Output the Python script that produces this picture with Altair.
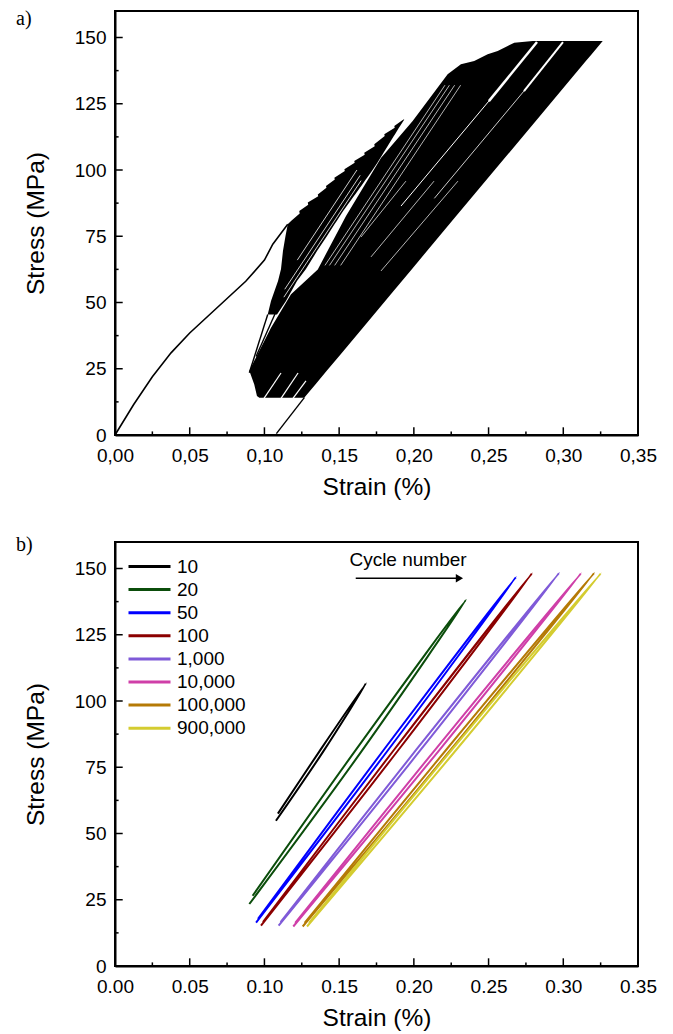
import altair as alt
import pandas as pd

FONT = "Liberation Sans"

# ---------------- panel a) data ----------------
mono_strain = [0.0, 0.0125, 0.025, 0.0375, 0.05, 0.0625, 0.075, 0.0875, 0.1, 0.1056, 0.1156]
mono_stress = [0.0, 11.5, 22.0, 31.0, 38.5, 45.0, 51.5, 58.0, 66.0, 72.0, 79.5]

fan_stress = [45.5, 50.6, 58.1, 62.6, 69.4, 75.1, 79.5, 80.8, 83.6, 84.5, 86.9, 87.7, 90.1, 90.8,
              93.3, 94.0, 96.4, 97.1, 99.6, 100.3, 102.7, 103.4, 105.8, 106.5, 109.0, 109.7,
              112.8, 113.5, 115.9, 116.6, 119.1]
fan_left = [0.1022, 0.1044, 0.1091, 0.1111, 0.1124, 0.1141, 0.1156, 0.1178, 0.1236, 0.1233, 0.1293,
            0.1290, 0.1360, 0.1357, 0.1415, 0.1412, 0.1471, 0.1468, 0.1538, 0.1535, 0.1604, 0.1601,
            0.1671, 0.1668, 0.1738, 0.1735, 0.1805, 0.1802, 0.1872, 0.1869, 0.1930]
fan_right = [0.1084, 0.1144, 0.1218, 0.1278, 0.1352, 0.1419, 0.1469, 0.1484, 0.1516, 0.1527, 0.1557,
             0.1568, 0.1598, 0.1607, 0.1639, 0.1648, 0.1678, 0.1687, 0.1719, 0.1727, 0.1756, 0.1763,
             0.1789, 0.1797, 0.1824, 0.1832, 0.1866, 0.1874, 0.1900, 0.1908, 0.1936]

band_stress = [14.1, 14.7, 19.1, 24.2, 30.6, 40.5, 53.1, 62.5, 82.6, 104.5, 118.5, 136.1, 139.9,
               141.1, 143.7, 144.9, 146.8, 148.0, 148.7]
band_left = [0.0966, 0.0950, 0.0932, 0.0899, 0.0955, 0.1044, 0.1178, 0.1357, 0.1546, 0.1780, 0.1992,
             0.2226, 0.2315, 0.2404, 0.2494, 0.2561, 0.2628, 0.2672, 0.2795]
band_right = [0.1267, 0.1276, 0.1341, 0.1417, 0.1512, 0.1659, 0.1846, 0.1985, 0.2283, 0.2608, 0.2816,
              0.3077, 0.3133, 0.3151, 0.3190, 0.3208, 0.3236, 0.3254, 0.3264]

# black single lines (links between blocks, final unloading)
link_id = [0, 0, 1, 1, 2, 2]
link_strain = [0.1022, 0.0899, 0.0944, 0.1089, 0.1080, 0.1267]
link_stress = [45.5, 23.5, 29.6, 48.0, 0.5, 14.1]

# white gaps between loop blocks (pairs of points)
gap_id = [0, 0, 1, 1, 2, 2, 3, 3, 4, 4, 5, 5, 6, 6, 7, 7, 8, 8, 9, 9, 10, 10, 11, 11, 12, 12,
          13, 13, 14, 14, 15, 15, 16, 16]
gap_strain = [0.2824, 0.2502, 0.2502, 0.1914, 0.2998, 0.2737, 0.2737, 0.2137, 0.2295, 0.1780,
              0.2135, 0.1713, 0.1947, 0.1646,
              0.1130, 0.1647, 0.1136, 0.1641, 0.1220, 0.1619,
              0.1405, 0.2208, 0.1435, 0.2238, 0.1470, 0.2273, 0.1510, 0.2313,
              0.0997, 0.1111, 0.1111, 0.1225, 0.1191, 0.1278]
gap_stress = [148.3, 126.0, 126.0, 86.4, 148.3, 129.8, 129.8, 89.3, 95.8, 61.9, 95.8, 67.2, 95.8, 74.7,
              52.0, 96.0, 55.0, 98.0, 66.0, 100.0,
              64.0, 132.0, 64.0, 132.0, 64.0, 132.0, 64.0, 132.0,
              13.8, 23.4, 13.8, 23.4, 13.8, 20.4]
gap_width = [2.5, 2.5, 1.0, 1.0, 2.0, 2.0, 0.8, 0.8, 0.7, 0.7, 0.7, 0.7, 0.7, 0.7,
             0.8, 0.8, 0.8, 0.8, 0.8, 0.8,
             0.7, 0.7, 0.7, 0.7, 0.7, 0.7, 0.7, 0.7,
             1.2, 1.2, 1.2, 1.2, 1.2, 1.2]

# ---------------- panel b) data ----------------
cycles = ["10", "20", "50", "100", "1,000", "10,000", "100,000", "900,000"]
colors = ["#000000", "#0b4d0b", "#0000ff", "#8b0000", "#7f5ad8", "#cf3fa8", "#b57a06", "#d4cc30"]
# each loop: bottom start -> middle (loading) -> peak -> middle (unloading) -> bottom end
loop_strain = [
    [0.1077, 0.1394, 0.1680, 0.1368, 0.1090],
    [0.0899, 0.1647, 0.2349, 0.1602, 0.0921],
    [0.0944, 0.1829, 0.2684, 0.1799, 0.0957],
    [0.0977, 0.1899, 0.2791, 0.1869, 0.0990],
    [0.1095, 0.2049, 0.2973, 0.2019, 0.1108],
    [0.1193, 0.2172, 0.3119, 0.2142, 0.1206],
    [0.1256, 0.2248, 0.3208, 0.2218, 0.1269],
    [0.1285, 0.2284, 0.3252, 0.2254, 0.1298],
]
loop_stress = [
    [54.8, 81.0, 106.7, 81.0, 57.5],
    [23.4, 80.8, 138.2, 80.8, 26.5],
    [16.4, 81.6, 146.8, 81.6, 17.8],
    [15.2, 81.7, 148.2, 81.7, 16.6],
    [15.2, 81.8, 148.4, 81.8, 16.6],
    [14.9, 81.6, 148.2, 81.6, 16.3],
    [14.9, 81.7, 148.4, 81.7, 16.3],
    [14.9, 81.6, 148.2, 81.6, 16.3],
]
arrow_strain = [0.1611, 0.2300]
arrow_stress = [146.3, 146.3]
arrow_head = [0.2305]
note_text = ["Cycle number"]
note_strain = [0.1961]
note_stress = [153.2]

# axis ticks (drawn inward)
x_major = [0.0, 0.05, 0.10, 0.15, 0.20, 0.25, 0.30, 0.35]
x_minor = [0.025, 0.075, 0.125, 0.175, 0.225, 0.275, 0.325]
y_major = [0, 25, 50, 75, 100, 125, 150]
y_minor = [12.5, 37.5, 62.5, 87.5, 112.5, 137.5]

# ---------------- helpers ----------------
W, H = 523, 424
xscale = alt.Scale(domain=[0, 0.35], nice=False, zero=False)
yscale = alt.Scale(domain=[0, 160], nice=False, zero=False)


def x_axis(comma):
    fmt = "replace(format(datum.value, '.2f'), '.', ',')" if comma else "format(datum.value, '.2f')"
    return alt.Axis(values=x_major, title="Strain (%)", labelExpr=fmt, ticks=False,
                    labelPadding=11, titlePadding=10, labelFlush=False, labelOverlap=False)


y_axis = alt.Axis(values=y_major, title="Stress (MPa)", labelExpr="format(datum.value, 'd')",
                  ticks=False, labelPadding=9, titlePadding=26, labelFlush=False, labelOverlap=False)

X = lambda f: alt.X(f, scale=xscale)
Y = lambda f: alt.Y(f, scale=yscale)


def tick_layers():
    out = []
    for vals, ln in ((x_major, 7.7), (x_minor, 3.6)):
        out.append(alt.Chart(pd.DataFrame({"v": vals})).mark_rule(color="black", strokeWidth=1.5).encode(
            x=X("v:Q"), y=alt.value(H), y2=alt.value(H - ln)))
    for vals, ln in ((y_major, 7.7), (y_minor, 3.6)):
        out.append(alt.Chart(pd.DataFrame({"v": vals})).mark_rule(color="black", strokeWidth=1.5).encode(
            y=Y("v:Q"), x=alt.value(0), x2=alt.value(ln)))
    return out


def label_layer(txt, dy):
    return alt.Chart(pd.DataFrame({"t": [txt]})).mark_text(
        font="Liberation Serif", fontSize=20, align="left", baseline="top", color="black"
    ).encode(text="t:N", x=alt.value(-99), y=alt.value(dy))


# ---------------- panel a ----------------
fan_df = pd.DataFrame({"stress": fan_stress, "left": fan_left, "right": fan_right})
band_df = pd.DataFrame({"stress": band_stress, "left": band_left, "right": band_right})
mono_df = pd.DataFrame({"strain": mono_strain, "stress": mono_stress, "o": range(len(mono_strain))})
link_df = pd.DataFrame({"id": link_id, "strain": link_strain, "stress": link_stress})
gap_df = pd.DataFrame({"id": gap_id, "strain": gap_strain, "stress": gap_stress,
                       "w": gap_width, "o": range(len(gap_strain))})

base_a = alt.Chart(mono_df).mark_line(color="black", strokeWidth=1.6).encode(
    x=alt.X("strain:Q", scale=xscale, axis=x_axis(True)),
    y=alt.Y("stress:Q", scale=yscale, axis=y_axis),
    order="o:Q",
)
fan = alt.Chart(fan_df).mark_area(orient="horizontal", color="black").encode(
    y=Y("stress:Q"), x=X("left:Q"), x2="right:Q")
band = alt.Chart(band_df).mark_area(orient="horizontal", color="black").encode(
    y=Y("stress:Q"), x=X("left:Q"), x2="right:Q")
links = alt.Chart(link_df).mark_line(color="black", strokeWidth=1.4).encode(
    x=X("strain:Q"), y=Y("stress:Q"), detail="id:N")
gaps = alt.Chart(gap_df).mark_line(color="white").encode(
    x=X("strain:Q"), y=Y("stress:Q"), detail="id:N", order="o:Q",
    strokeWidth=alt.StrokeWidth("w:Q", scale=None, legend=None))

panel_a = alt.layer(base_a, fan, band, gaps, links, *tick_layers(),
                    label_layer("a)", -2)).properties(width=W, height=H)

# ---------------- panel b ----------------
rows = []
for name, xs, ys in zip(cycles, loop_strain, loop_stress):
    for i, (xv, yv) in enumerate(zip(xs, ys)):
        rows.append({"cycle": name, "i": i, "strain": xv, "stress": yv})
loops_df = pd.DataFrame(rows)

loops = alt.Chart(loops_df).mark_line(strokeWidth=2, interpolate="catmull-rom").encode(
    x=alt.X("strain:Q", scale=xscale, axis=x_axis(False)),
    y=alt.Y("stress:Q", scale=yscale, axis=y_axis),
    color=alt.Color("cycle:N", scale=alt.Scale(domain=cycles, range=colors),
                    legend=alt.Legend(orient="none", legendX=25, legendY=15, title=None,
                                      symbolType="M-4.2,0H4.2", symbolSize=100, symbolStrokeWidth=3,
                                      labelFont=FONT, labelFontSize=19, labelColor="black",
                                      labelOffset=18, rowPadding=3.1)),
    order="i:Q",
)
arrow_df = pd.DataFrame({"strain": arrow_strain, "stress": arrow_stress})
arrow = alt.Chart(arrow_df).mark_line(color="black", strokeWidth=1.6).encode(
    x=X("strain:Q"), y=Y("stress:Q"))
head = alt.Chart(pd.DataFrame({"strain": arrow_head, "stress": arrow_stress[:1]})).mark_point(
    shape="triangle-right", size=70, filled=True, color="black", opacity=1).encode(
    x=X("strain:Q"), y=Y("stress:Q"))
note = alt.Chart(pd.DataFrame({"t": note_text, "strain": note_strain, "stress": note_stress})).mark_text(
    font=FONT, fontSize=19, color="black", baseline="middle", align="center").encode(
    x=X("strain:Q"), y=Y("stress:Q"), text="t:N")

panel_b = alt.layer(loops, arrow, head, note, *tick_layers(),
                    label_layer("b)", -7.5)).properties(width=W, height=H)

chart = alt.vconcat(panel_a, panel_b, spacing=33).resolve_legend(color="independent").resolve_scale(
    color="independent"
).properties(
    padding={"left": 7, "top": 0, "right": 5, "bottom": 5}
).configure_view(stroke="black", strokeWidth=2).configure_axis(
    domainColor="black", domainWidth=2, grid=False,
    labelFont=FONT, labelFontSize=19, labelColor="black",
    titleFont=FONT, titleFontSize=24.5, titleFontWeight="normal", titleColor="black",
).configure_legend(labelFont=FONT)

chart.save("out.html", embed_options={"renderer": "svg", "actions": False})
